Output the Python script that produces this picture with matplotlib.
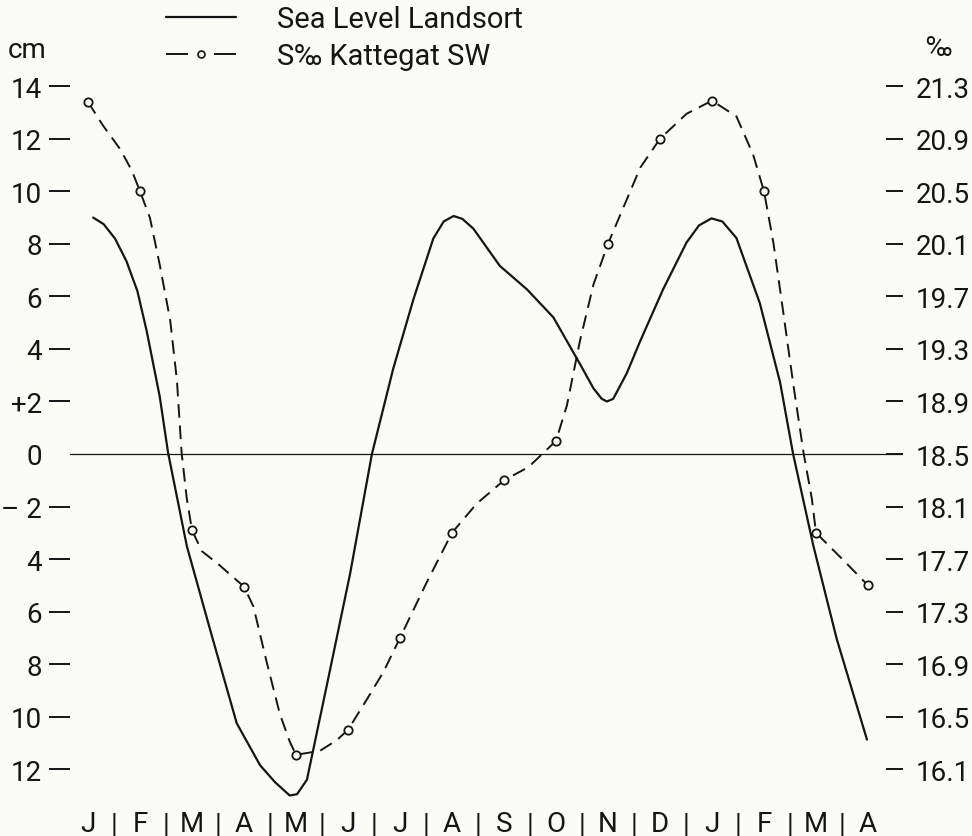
import matplotlib
matplotlib.use("Agg")
import matplotlib.pyplot as plt
from matplotlib import font_manager
from matplotlib.lines import Line2D

# months from January through the April of the following year
months = ["J", "F", "M", "A", "M", "J", "J", "A", "S", "O", "N", "D", "J", "F", "M", "A"]

# sea level at Landsort (cm) (x = month index)
sea_month = [0.10, 0.30, 0.52, 0.74, 0.95, 1.13, 1.38, 1.54, 1.90, 2.35, 2.86, 3.31, 3.60, 3.88,
             4.02, 4.21, 4.59, 5.04, 5.46, 5.87, 6.26, 6.64, 6.84, 7.03, 7.20, 7.41, 7.92,
             8.44, 8.95, 9.46, 9.72, 9.88, 9.98, 10.10, 10.36, 10.62, 11.06, 11.51, 11.75, 11.99,
             12.20, 12.47, 12.92, 13.31, 13.56, 13.95, 14.40, 14.98]
sea_cm = [9.0, 8.75, 8.2, 7.34, 6.2, 4.67, 2.18, 0.05, -3.5, -6.7, -10.25, -11.85, -12.5, -13.0,
          -12.95, -12.4, -8.83, -4.56, 0.0, 3.25, 5.9, 8.2, 8.85, 9.06, 8.95, 8.58, 7.16,
          6.27, 5.2, 3.43, 2.5, 2.1, 2.0, 2.1, 3.07, 4.3, 6.27, 8.05, 8.7, 8.97,
          8.85, 8.22, 5.74, 2.72, 0.0, -3.5, -7.05, -10.87]

sal_month = [0, 0.29, 0.62, 0.84, 1, 1.19, 1.38, 1.58, 1.71, 1.80, 1.90, 2, 2.19, 2.51, 3,
             3.18, 3.44, 3.69, 3.88, 4, 4.46, 4.78, 5, 5.36, 5.68, 6, 6.51, 7, 7.47, 8,
             8.47, 9, 9.21, 9.46, 9.72, 10, 10.62, 11, 11.51, 12, 12.47, 12.79, 13,
             13.18, 13.37, 13.56, 13.76, 13.92, 14, 14.53, 15]
sal = [21.18, 21.0, 20.82, 20.66, 20.50, 20.30, 19.94, 19.52, 19.06, 18.51, 18.16, 17.92,
       17.76, 17.66, 17.49, 17.34, 16.91, 16.52, 16.31, 16.21, 16.24, 16.32, 16.40, 16.63,
       16.84, 17.10, 17.52, 17.90, 18.12, 18.30, 18.40, 18.60, 18.87, 19.36, 19.79, 20.10,
       20.68, 20.90, 21.09, 21.19, 21.07, 20.78, 20.50, 20.11, 19.58, 19.04, 18.51, 18.16,
       17.90, 17.69, 17.50]

cm_ticks = [14, 12, 10, 8, 6, 4, 2, 0, -2, -4, -6, -8, -10, -12]
cm_labels = ["14", "12", "10", "8", "6", "4", "+2", "0", "\u2013 2", "4", "6", "8", "10", "12"]
sal_ticks = [21.3, 20.9, 20.5, 20.1, 19.7, 19.3, 18.9, 18.5, 18.1, 17.7, 17.3, 16.9, 16.5, 16.1]

names = {f.name for f in font_manager.fontManager.ttflist}
base = "Liberation Sans Narrow" if "Liberation Sans Narrow" in names else "Roboto"
plt.rcParams["font.family"] = [base, "DejaVu Sans"]
plt.rcParams["font.size"] = 20

ink = "#151515"
paper = "#fbfbf8"

W, H = 972, 837
fig = plt.figure(figsize=(W / 100, H / 100), dpi=100, facecolor=paper)
ax = fig.add_axes([70 / W, 1 - 807 / H, (903 - 70) / W, (807 - 80) / H])
ax.set_facecolor("none")

x0, dx = 88, 52  # pixel of first month, pixels per month
cm0, dcm = 455, 26.27
ax.set_xlim((70 - x0) / dx, (903 - x0) / dx)
ylo, yhi = (cm0 - 807) / dcm, (cm0 - 80) / dcm
ax.set_ylim(ylo, yhi)

ax.axhline(0, color=ink, lw=0.9)
sea_line, = ax.plot(sea_month, sea_cm, color=ink, lw=1.6, solid_capstyle="round",
                    solid_joinstyle="round")

ax2 = ax.twinx()
ax2.set_ylim(18.5 + 0.2 * ylo, 18.5 + 0.2 * yhi)
marks = [i for i, m in enumerate(sal_month) if float(m).is_integer()]
ax2.plot(sal_month, sal, color=ink, lw=1.4, dashes=(7, 4),
         marker="o", markevery=marks, ms=6, mfc=paper, mec=ink, mew=1.3)

for a in (ax, ax2):
    for s in a.spines.values():
        s.set_visible(False)

ax.set_yticks(cm_ticks)
ax.set_yticklabels(cm_labels)
ax.tick_params(axis="y", direction="out", length=15, width=1.4, pad=5, color=ink, labelcolor=ink)
ax.yaxis.get_major_ticks()[cm_ticks.index(0)].tick1line.set_visible(False)

ax2.set_yticks(sal_ticks)
ax2.set_yticklabels([f"{v:.1f}" for v in sal_ticks])
ax2.tick_params(axis="y", direction="in", length=12, width=1.4, pad=9, color=ink, labelcolor=ink)

ax.set_xticks(range(len(months)))
ax.set_xticklabels(months)
ax.set_xticks([i + 0.5 for i in range(len(months) - 1)], minor=True)
ax.set_xticklabels(["|"] * (len(months) - 1), minor=True)
ax.tick_params(axis="x", which="both", length=0, pad=3, labelcolor=ink)

fig.text(8 / W, 1 - 50 / H, "cm", va="center", ha="left", color=ink)
fig.text(925 / W, 1 - 48 / H, "\u2030", va="center", ha="left", color=ink)

# legend key for the salinity curve drawn as "- o -"
sal_key = Line2D([], [], color=ink, lw=1.4, dashes=(11.3, 13.4),
                 marker="o", ms=5, mfc=paper, mec=ink, mew=1.2)
ax.legend([sea_line, sal_key], ["Sea Level Landsort", "S\u2030 Kattegat SW"],
          loc="upper left", bbox_to_anchor=(166 / W, 1 - 6 / H), bbox_transform=fig.transFigure,
          frameon=False, borderpad=0, borderaxespad=0, handlelength=2.4, handletextpad=1.4,
          labelspacing=0.3, numpoints=1, labelcolor=ink, fontsize=21)

fig.savefig("out.png", dpi=100, facecolor=paper)
